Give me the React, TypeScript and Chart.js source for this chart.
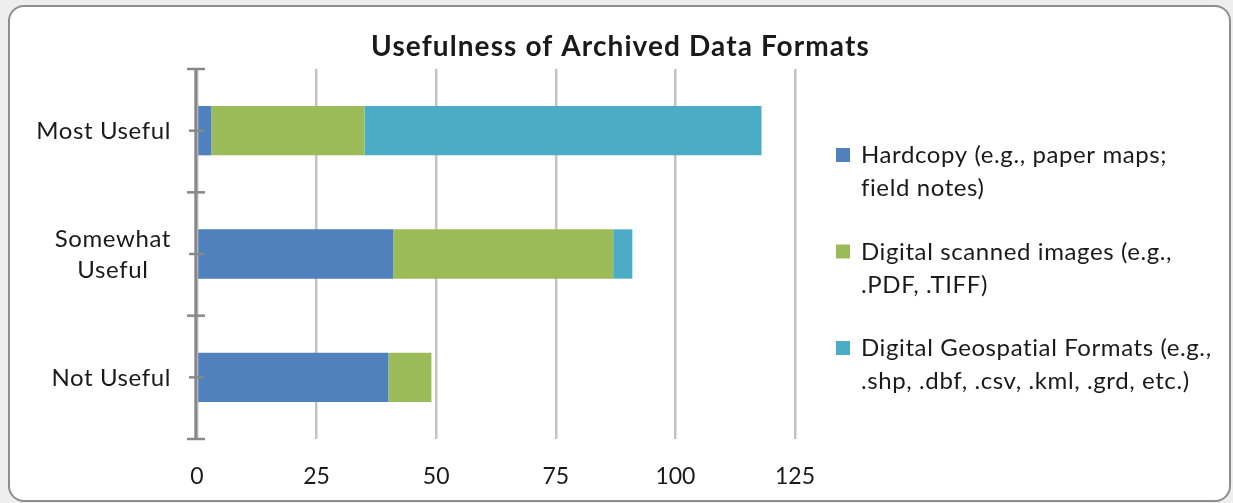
import React, { useEffect, useRef } from "react";
import { Chart, registerables } from "chart.js";

Chart.register(...registerables);

// ---- Data ----
const categories: string[][] = [["Most Useful"], ["Somewhat", "Useful"], ["Not Useful"]];
const seriesNames: string[][] = [
  ["Hardcopy (e.g., paper maps;", "field notes)"],
  ["Digital scanned images (e.g.,", ".PDF, .TIFF)"],
  ["Digital Geospatial Formats (e.g.,", ".shp, .dbf, .csv, .kml, .grd, etc.)"],
];
const hardcopy = [3, 41, 40];
const scanned = [32, 46, 9];
const geospatial = [83, 4, 0];
const xMin = 0;
const xMax = 125;
const xStep = 25;
const chartTitle = "Usefulness of Archived Data Formats";

// ---- Styles ----
const colors = ["#4F81BD", "#9BBB59", "#4BACC6"];
const FONT = "Lato";
const TEXT_COLOR = "#1a1a1a";
const AXIS_COLOR = "#888888";
const GRID_COLOR = "#c3c3c3";

const decorPlugin = {
  id: "decor",
  afterDatasetsDraw(chart: any) {
    const ctx: any = chart.ctx;
    const area = chart.chartArea;
    const yScale = chart.scales.y;
    ctx.save();

    // y axis line
    ctx.strokeStyle = AXIS_COLOR;
    ctx.lineWidth = 3;
    ctx.beginPath();
    ctx.moveTo(area.left - 1.2, area.top);
    ctx.lineTo(area.left - 1.2, area.bottom);
    ctx.stroke();

    // boundary ticks
    ctx.lineWidth = 2.5;
    const n = categories.length;
    for (let k = 0; k <= n; k++) {
      const y = yScale.getPixelForValue(k - 0.5);
      ctx.beginPath();
      ctx.moveTo(area.left - 10, y);
      ctx.lineTo(area.left + 8, y);
      ctx.stroke();
    }
    // center ticks
    for (let i = 0; i < n; i++) {
      const y = yScale.getPixelForValue(i);
      ctx.beginPath();
      ctx.moveTo(area.left - 8, y);
      ctx.lineTo(area.left + 7, y);
      ctx.stroke();
    }

    // y labels (block right aligned, lines centered)
    ctx.fillStyle = TEXT_COLOR;
    ctx.font = `24px ${FONT}`;
    ctx.letterSpacing = "0.6px";
    ctx.textBaseline = "alphabetic";
    ctx.textAlign = "center";
    const labelRight = area.left - 26;
    const lineStep = 31.7;
    const capHalf = 8.5;
    categories.forEach((lines, i) => {
      const cy = yScale.getPixelForValue(i);
      const w = Math.max(...lines.map((l) => ctx.measureText(l).width));
      const cx = labelRight - w / 2;
      lines.forEach((l, j) => {
        const mid = cy + (j - (lines.length - 1) / 2) * lineStep;
        ctx.fillText(l, cx, mid + capHalf);
      });
    });

    // title
    ctx.font = `bold 28px ${FONT}`;
    ctx.letterSpacing = "1.1px";
    ctx.textAlign = "center";
    ctx.fillText(chartTitle, 620.5, 56);

    // legend
    ctx.font = `24px ${FONT}`;
    ctx.letterSpacing = "0.6px";
    ctx.textAlign = "left";
    const legX = area.right + 41;
    const textX = legX + 25;
    const firstBase = 163;
    const blockStep = 96.5;
    const legLine = 33;
    seriesNames.forEach((lines, i) => {
      const base = firstBase + i * blockStep;
      ctx.fillStyle = colors[i];
      ctx.fillRect(legX, base - 15, 14, 14);
      ctx.fillStyle = TEXT_COLOR;
      lines.forEach((l, j) => ctx.fillText(l, textX, base + j * legLine));
    });

    ctx.restore();
  },
};

export default function App() {
  const canvasRef = useRef<HTMLCanvasElement | null>(null);

  useEffect(() => {
    if (!canvasRef.current) return;
    const chart = new Chart(canvasRef.current, {
      type: "bar",
      data: {
        labels: categories.map((c) => c.join(" ")),
        datasets: [
          { label: seriesNames[0].join(" "), data: hardcopy, backgroundColor: colors[0] },
          { label: seriesNames[1].join(" "), data: scanned, backgroundColor: colors[1] },
          { label: seriesNames[2].join(" "), data: geospatial, backgroundColor: colors[2] },
        ],
      },
      options: {
        indexAxis: "y",
        responsive: false,
        animation: false,
        devicePixelRatio: 1,
        datasets: { bar: { barPercentage: 0.4, categoryPercentage: 1, borderWidth: 0 } },
        layout: { padding: { left: 0, right: 438, top: 69, bottom: 0 } },
        plugins: {
          legend: { display: false },
          title: { display: false },
          tooltip: { enabled: false },
        },
        scales: {
          x: {
            type: "linear",
            stacked: true,
            min: xMin,
            max: xMax,
            ticks: {
              stepSize: xStep,
              color: TEXT_COLOR,
              font: { family: FONT, size: 23 },
              padding: 24,
              maxRotation: 0,
            },
            grid: { color: GRID_COLOR, lineWidth: 2.5, drawTicks: false },
            border: { display: false },
            afterFit: (s: any) => {
              s.height = 64;
            },
          },
          y: {
            stacked: true,
            ticks: { display: false },
            grid: { display: false },
            border: { display: false },
            afterFit: (s: any) => {
              s.width = 197;
            },
          },
        },
      } as any,
      plugins: [decorPlugin],
    });
    const fonts: any = (document as any).fonts;
    if (fonts && fonts.load) {
      Promise.all([fonts.load(`24px ${FONT}`), fonts.load(`bold 28px ${FONT}`)])
        .then(() => chart.update())
        .catch(() => {});
    }
    return () => chart.destroy();
  }, []);

  return (
    <div style={{ position: "absolute", left: 0, top: 0, width: 1233, height: 503, background: "#eeeeee", overflow: "hidden" }}>
      <div
        style={{
          position: "absolute",
          left: 8,
          top: 5,
          width: 1223,
          height: 497,
          boxSizing: "border-box",
          border: "2px solid #8e8e8e",
          borderRadius: 16,
          background: "#ffffff",
        }}
      />
      <canvas ref={canvasRef} width={1233} height={503} style={{ position: "absolute", left: 0, top: 0, width: 1233, height: 503 }} />
    </div>
  );
}
